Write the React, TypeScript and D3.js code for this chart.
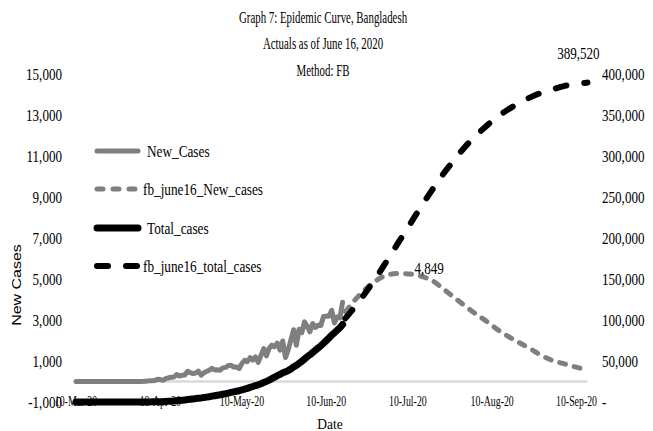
import React from "react";
import * as d3 from "d3";

// ---------- data ----------
const actualStart = "2020-03-10";
// daily new cases, 10-Mar-20 .. 16-Jun-20
const newCases = [
  0, 0, 0, 0, 2, 0, 3, 2, 4, 3, 3, 4, 3, 6, 6, 0, 5, 4, 0, 0, 1, 2,
  3, 2, 5, 9, 18, 35, 41, 54, 112, 94, 58, 139, 182, 209, 219, 341, 266, 306, 312, 492,
  434, 390, 414, 503, 309, 418, 497, 549, 641, 564,
  571, 552, 665, 688, 786, 790, 706, 709, 636, 887, 1034, 969, 1162, 1041, 1202, 930,
  1273, 1602, 1251, 1617, 1773, 1694, 1873, 1532, 1975, 1166, 1541, 2029, 2523, 1764, 2545,
  2381, 2911, 2695, 2423, 2828, 2635, 2743, 2735, 3171, 3190, 3187, 3471, 2856, 3141, 3099, 3862,
];
// cumulative cases, 10-Mar-20 .. 16-Jun-20
const totalCases = [
  3, 3, 3, 3, 5, 5, 8, 10, 14, 17, 20, 24, 27, 33, 39, 39, 44, 48, 48, 48, 49, 51,
  54, 56, 61, 70, 88, 123, 164, 218, 330, 424, 482, 621, 803, 1012, 1231, 1572, 1838, 2144,
  2456, 2948, 3382, 3772, 4186, 4689, 4998, 5416, 5913, 6462, 7103, 7667,
  8238, 8790, 9455, 10143, 10929, 11719, 12425, 13134, 13770, 14657, 15691, 16660, 17822,
  18863, 20065, 20995, 22268, 23870, 25121, 26738, 28511, 30205, 32078, 33610, 35585,
  36751, 38292, 40321, 42844, 44608, 47153,
  49534, 52445, 55140, 57563, 60391, 63026, 65769, 68504, 71675, 74865, 78052, 81523,
  84379, 87520, 90619, 94481,
];
const fbDates = [
  "2020-06-17", "2020-06-21", "2020-06-25", "2020-06-29", "2020-07-03", "2020-07-07",
  "2020-07-11", "2020-07-15", "2020-07-19", "2020-07-23", "2020-07-27", "2020-07-31",
  "2020-08-04", "2020-08-08", "2020-08-12", "2020-08-16", "2020-08-20", "2020-08-24",
  "2020-08-28", "2020-09-01", "2020-09-05", "2020-09-09", "2020-09-14",
];
const fbNewCases = [
  3400, 4040, 4580, 4980, 5220, 5270, 5240, 5130, 4920, 4520, 4100, 3690,
  3290, 2930, 2530, 2190, 1890, 1600, 1280, 1030, 880, 730, 560,
];
const fbTotalCases = [
  102000, 118000, 136000, 155000, 176000, 197000, 218000, 239000, 259000, 278000, 295000,
  311000, 325000, 337000, 348000, 357000, 365000, 371500, 377000, 381000, 385000, 387500,
  389520,
];
const leftTicks = [15000, 13000, 11000, 9000, 7000, 5000, 3000, 1000, -1000];
const rightTicks = [400000, 350000, 300000, 250000, 200000, 150000, 100000, 50000, 0];
const xTickDates = ["2020-03-10", "2020-04-10", "2020-05-10", "2020-06-10", "2020-07-10", "2020-08-10", "2020-09-10"];
const xTickLabels = ["10-Mar-20", "10-Apr-20", "10-May-20", "10-Jun-20", "10-Jul-20", "10-Aug-20", "10-Sep-20"];
const titleLines = ["Graph 7: Epidemic Curve, Bangladesh", "Actuals as of June 16, 2020", "Method: FB"];
const legendLabels = ["New_Cases", "fb_june16_New_cases", "Total_cases", "fb_june16_total_cases"];
const peakLabel = "4,849";
const peakLabelDate = "2020-07-15";
const xDomain = ["2020-03-10", "2020-09-14"];
const leftDomain = [-1000, 15000];
const rightDomain = [0, 400000];

// ---------- helpers ----------
const parse = d3.timeParse("%Y-%m-%d");
const SERIF = "'Liberation Serif', 'Times New Roman', serif";
const SANS = "'Liberation Sans', Arial, sans-serif";
const fmt = d3.formatLocale({ decimal: ".", thousands: ",", grouping: [3], currency: ["", ""], minus: "-" }).format(",");

function T({ x, y, size, sx, anchor = "start", family = SERIF, fill = "#000", children }: any) {
  return (
    <text
      transform={`translate(${x},${y}) scale(${sx},1)`}
      fontSize={size}
      textAnchor={anchor}
      dy="0.35em"
      fontFamily={family}
      fill={fill}
    >
      {children}
    </text>
  );
}

const GRAY = "#7f7f7f";

export default function App() {
  const x = d3.scaleTime().domain(xDomain.map((d) => parse(d) as Date)).range([76, 587.4]);
  const yL = d3.scaleLinear().domain(leftDomain).range([402, 74]);
  const yR = d3.scaleLinear().domain(rightDomain).range([402, 74]);

  const start = parse(actualStart) as Date;
  const actualDates = newCases.map((_, i) => d3.timeDay.offset(start, i));
  const fbD = fbDates.map((d) => parse(d) as Date);

  const lineL = d3.line<[Date, number]>().x((d) => x(d[0])).y((d) => yL(d[1]));
  const lineR = d3.line<[Date, number]>().x((d) => x(d[0])).y((d) => yR(d[1]));
  const smoothL = d3.line<[Date, number]>().x((d) => x(d[0])).y((d) => yL(d[1])).curve(d3.curveMonotoneX);
  const smoothR = d3.line<[Date, number]>().x((d) => x(d[0])).y((d) => yR(d[1])).curve(d3.curveMonotoneX);

  const newPath = lineL(actualDates.map((d, i) => [d, newCases[i]]));
  const totalPath = lineR(actualDates.map((d, i) => [d, totalCases[i]]));
  const fbNewPath = smoothL(fbD.map((d, i) => [d, fbNewCases[i]]));
  const fbTotalPath = smoothR(fbD.map((d, i) => [d, fbTotalCases[i]]));

  const lastIdx = fbD.length - 1;
  const lastX = x(fbD[lastIdx]);
  const lastY = yR(fbTotalCases[lastIdx]);
  const peakIdx = fbDates.indexOf(peakLabelDate);
  const peakX = x(fbD[peakIdx]);
  const peakY = yL(fbNewCases[peakIdx]);

  const legendY = [151, 189, 228, 266];
  const legendStyles = [
    { stroke: GRAY, w: 5, dash: undefined, tx: 147 },
    { stroke: GRAY, w: 5, dash: "6,10", tx: 143 },
    { stroke: "#000", w: 7, dash: undefined, tx: 147 },
    { stroke: "#000", w: 6, dash: "11,18", tx: 143 },
  ];

  return (
    <svg width={653} height={431} style={{ position: "absolute", left: 0, top: 0, background: "#fff" }}>
      <rect width={653} height={431} fill="#fff" />
      {/* titles */}
      {titleLines.map((t, i) => (
        <T key={t} x={323} y={[17, 43, 70][i]} size={16} sx={0.68} anchor="middle">
          {t}
        </T>
      ))}
      {/* left ticks */}
      {leftTicks.map((v) => (
        <T key={"l" + v} x={62} y={yL(v)} size={17} sx={0.77} anchor="end">
          {fmt(v)}
        </T>
      ))}
      {/* right ticks */}
      {rightTicks.map((v) => (
        <T key={"r" + v} x={602} y={yR(v)} size={17} sx={0.77} anchor="start">
          {v === 0 ? "-" : fmt(v)}
        </T>
      ))}
      {/* x ticks */}
      {xTickDates.map((d, i) => (
        <T key={d} x={x(parse(d) as Date)} y={401} size={14.5} sx={0.68} anchor="middle">
          {xTickLabels[i]}
        </T>
      ))}
      <T x={330} y={424} size={15} sx={0.9} anchor="middle">
        Date
      </T>
      <text
        transform="translate(17,285) rotate(-90) scale(1,0.75)"
        fontSize={16}
        textAnchor="middle"
        dy="0.35em"
        fontFamily={SANS}
      >
        New Cases
      </text>
      {/* zero line */}
      <line x1={x.range()[0]} x2={x.range()[1]} y1={yL(0)} y2={yL(0)} stroke="#d9d9d9" strokeWidth={2.5} />
      {/* series */}
      <path d={newPath || ""} fill="none" stroke={GRAY} strokeWidth={5} strokeLinejoin="round" strokeLinecap="round" />
      <path d={fbNewPath || ""} fill="none" stroke={GRAY} strokeWidth={5} strokeDasharray="6,9" strokeLinecap="round" />
      <path d={totalPath || ""} fill="none" stroke="#000" strokeWidth={7} strokeLinejoin="round" strokeLinecap="round" />
      <path d={fbTotalPath || ""} fill="none" stroke="#000" strokeWidth={6} strokeDasharray="11,18" strokeLinecap="round" />
      {/* data labels */}
      <T x={lastX - 9} y={lastY - 30} size={17} sx={0.77} anchor="middle">
        {fmt(fbTotalCases[lastIdx])}
      </T>
      <T x={peakX - 7} y={peakY - 8} size={17} sx={0.77} anchor="start">
        {peakLabel}
      </T>
      {/* legend */}
      {legendLabels.map((l, i) => (
        <g key={l}>
          <line
            x1={97}
            x2={138}
            y1={legendY[i]}
            y2={legendY[i]}
            stroke={legendStyles[i].stroke}
            strokeWidth={legendStyles[i].w}
            strokeDasharray={legendStyles[i].dash}
            strokeLinecap="round"
          />
          <T x={legendStyles[i].tx} y={legendY[i]} size={17} sx={0.78}>
            {l}
          </T>
        </g>
      ))}
    </svg>
  );
}
